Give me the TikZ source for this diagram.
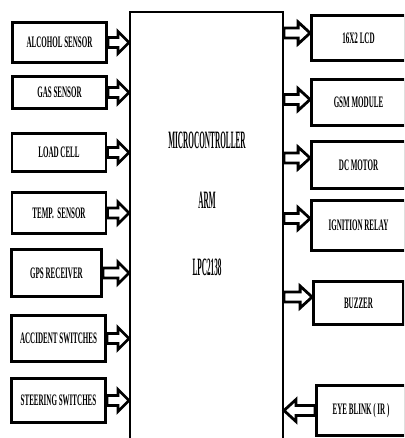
\documentclass[tikz,border=0pt]{standalone}
\usepackage{fontspec}
\usepackage{tikz}
\usetikzlibrary{calc}
\newfontfamily\lblfont[FakeStretch=0.44]{Liberation Serif}
\newfontfamily\mcfont[FakeStretch=0.29]{Liberation Serif}
% block arrow from #1 to #2, head length #3 (negative points left)
\newcommand\blockarrow[3]{%
  \draw[barrow] let \p1=(#1), \p2=(#2) in
    (\x1,{\y1+5pt}) -- ({\x2-(#3)},{\y1+5pt}) -- ({\x2-(#3)},{\y1+11pt}) -- (\x2,\y1)
    -- ({\x2-(#3)},{\y1-11pt}) -- ({\x2-(#3)},{\y1-5pt}) -- (\x1,{\y1-5pt}) -- cycle;}

\begin{document}
\begin{tikzpicture}[x=1pt,y=-1pt,
    blk/.style={draw,line width=2.8pt,minimum width=94,inner sep=1pt,
      font={\lblfont\bfseries\fontsize{16}{16}\selectfont}},
    outblk/.style={blk,minimum width=94},
    mctext/.style={font={\mcfont\bfseries\fontsize{25}{25}\selectfont}},
    barrow/.style={draw,fill=white,line width=2.8pt,line join=miter}]
  \useasboundingbox (0,0) rectangle (404,438);
  \clip (0,0) rectangle (404,438);

  % controller
  \node[draw,line width=2pt,minimum width=153,minimum height=448] (mc) at (206.5,236) {};
  \node[mctext] (mcname) at (207,140) {MICROCONTROLLER};
  \node[mctext] (mcarm) at (207,200) {ARM};
  \node[mctext] (mcpart) at (207,267) {LPC2138};

  % inputs
  \node[blk,minimum height=40] (alcohol) at (59.5,42.5) {ALCOHOL SENSOR};
  \node[blk,minimum height=32] (gas) at (59.5,92.5) {GAS SENSOR};
  \node[blk,minimum height=38] (load) at (59,152.5) {LOAD CELL};
  \node[blk,minimum height=41] (temp) at (59,213) {TEMP.\ \ SENSOR};
  \node[blk,minimum height=47,minimum width=90] (gps) at (56.5,273) {GPS RECEIVER};
  \node[blk,minimum height=46] (accident) at (58.5,338.5) {ACCIDENT SWITCHES};
  \node[blk,minimum height=44] (steering) at (58.5,400.5) {STEERING SWITCHES};

  % outputs
  \node[outblk,minimum height=45] (lcd) at (358.5,38) {16X2 LCD};
  \node[outblk,minimum height=46] (gsm) at (358.5,102.5) {GSM MODULE};
  \node[outblk,minimum height=47] (motor) at (358.5,165) {DC MOTOR};
  \node[outblk,minimum height=50] (relay) at (358.5,225.5) {IGNITION RELAY};
  \node[outblk,minimum height=43,minimum width=90] (buzzer) at (358.5,303) {BUZZER};
  \node[outblk,minimum height=50,minimum width=89] (eye) at (361,410.5) {EYE BLINK ( IR )};

  \blockarrow{alcohol.east}{mc.west |- alcohol.east}{11pt}
  \blockarrow{gas.east}{mc.west |- gas.east}{11pt}
  \blockarrow{load.east}{mc.west |- load.east}{11pt}
  \blockarrow{temp.east}{mc.west |- temp.east}{11pt}
  \blockarrow{gps.east}{mc.west |- gps.east}{11pt}
  \blockarrow{accident.east}{mc.west |- accident.east}{11pt}
  \blockarrow{steering.east}{mc.west |- steering.east}{11pt}

  \blockarrow{$(mc.east |- lcd.west)+(0,-5)$}{$(lcd.west)+(0,-5)$}{12pt}
  \blockarrow{$(mc.east |- gsm.west)+(0,-3)$}{$(gsm.west)+(0,-3)$}{12pt}
  \blockarrow{$(mc.east |- motor.west)+(0,-7)$}{$(motor.west)+(0,-7)$}{12pt}
  \blockarrow{$(mc.east |- relay.west)+(0,-7)$}{$(relay.west)+(0,-7)$}{12pt}
  \blockarrow{$(mc.east |- buzzer.west)+(0,-6)$}{$(buzzer.west)+(0,-6)$}{12pt}
  \blockarrow{eye.west}{mc.east |- eye.west}{-12pt}
\end{tikzpicture}
\end{document}
